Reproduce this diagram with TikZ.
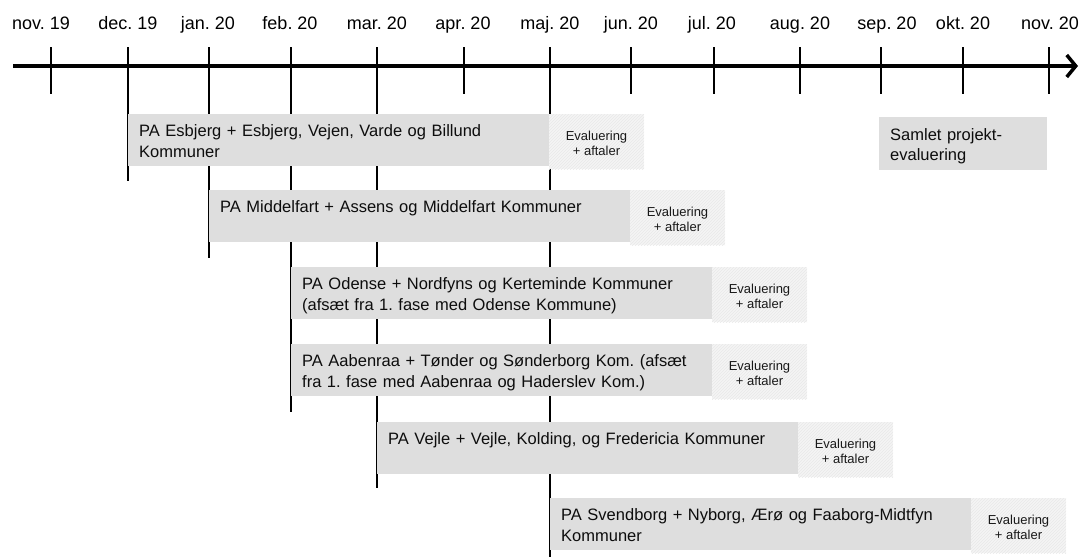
\documentclass[tikz,border=0pt]{standalone}
\usepackage{fontspec}
\setmainfont{Liberation Sans}
\usetikzlibrary{arrows.meta,patterns}
\frenchspacing

\tikzset{
	axis/.style={line width=3.5pt, -{Straight Barb[length=9pt,width=22pt]}},
	tick/.style={line width=2.4pt},
	month/.style={anchor=base, inner sep=0pt, font=\fontsize{18}{20}\selectfont},
	phasefill/.style={fill=black!13},
	evalfill/.style={fill=black!4, postaction={pattern=north east lines, pattern color=black!9}},
	phasetext/.style={anchor=base west, inner sep=0pt, text width=410pt, align=left,
		font=\fontsize{16.5}{20.5}\selectfont, text=black!95},
	evaltext/.style={align=center, inner sep=0pt, font=\fontsize{13}{15.5}\selectfont, text=black!90}
}

% #1 left edge, #2 top, #3 name, #4 text
\newcommand{\phase}[4]{%
	\fill[phasefill] (#1,#2) rectangle ++(421,52);
	\fill[evalfill] (#1+421,#2) rectangle ++(95,55);
	\node[phasetext] (#3) at (#1+11,#2+22.5) {#4};
	\node[evaltext] (#3-eval) at (#1+468.5,#2+29.5) {Evaluering\\+ aftaler};
}

\begin{document}
\begin{tikzpicture}[x=1pt, y=-1pt]
		%%%%% START %%%%%
		\useasboundingbox (0,0) rectangle (1081,557);
		
		\draw[axis] (13,66) -- (1078,66);
		
		\foreach \x/\lx/\m [count=\i] in {51/41/nov. 19, 128/128/dec. 19, 209/208/jan. 20,
			291/290/feb. 20, 377/377/mar. 20, 464/463/apr. 20, 550/550/maj. 20, 631/631/jun. 20,
			714/712/jul. 20, 800/800/aug. 20, 881/887/sep. 20, 963/963/okt. 20, 1049/1050/nov. 20} {
			\draw[tick] (\x,47) -- (\x,94);
			\node[month] (month\i) at (\lx,29) {\m};
		}
		
		% start of each phase runs down past the boxes
		\foreach \x/\y in {128/181, 209/258, 291/412, 377/488, 550/557}
			\draw[tick] (\x,47) -- (\x,\y);
		
		\phase{128}{114}{esbjerg}{PA Esbjerg + Esbjerg, Vejen, Varde og Billund\\Kommuner}
		\phase{209}{190}{middelfart}{PA Middelfart + Assens og Middelfart Kommuner}
		\phase{291}{267}{odense}{PA Odense + Nordfyns og Kerteminde Kommuner\\(afsæt fra 1. fase med Odense Kommune)}
		\phase{291}{344}{aabenraa}{PA Aabenraa + Tønder og Sønderborg Kom. (afsæt\\fra 1. fase med Aabenraa og Haderslev Kom.)}
		\phase{377}{422}{vejle}{PA Vejle + Vejle, Kolding, og Fredericia Kommuner}
		\phase{550}{498}{svendborg}{PA Svendborg + Nyborg, Ærø og Faaborg-Midtfyn\\Kommuner}
		
		\fill[phasefill] (879,117) rectangle (1047,170);
		\node[phasetext, text width=150pt] (samlet) at (890,140) {Samlet projekt-\\evaluering};
		%%%%% END %%%%%
\end{tikzpicture}
\end{document}
